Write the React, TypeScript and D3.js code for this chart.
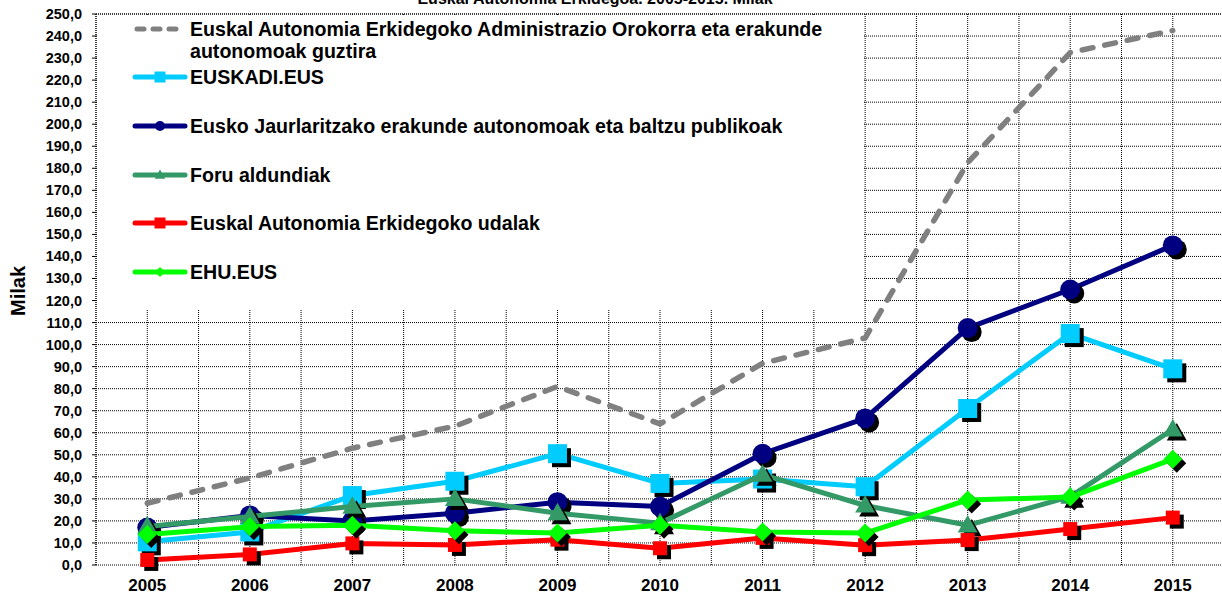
import React from "react";
import * as d3 from "d3";

const years = ["2005", "2006", "2007", "2008", "2009", "2010", "2011", "2012", "2013", "2014", "2015"];
const totalAdmin = [28, 39.5, 53, 63, 81, 64, 91.5, 103, 182.5, 232.5, 242.5];
const euskadiEus = [10.5, 15, 31.5, 38, 50.5, 37, 39, 35.5, 71, 105, 89];
const jaurlaritza = [17, 22.5, 20, 23.5, 28.5, 26.5, 50.5, 66.5, 107.5, 125, 145];
const foru = [17.5, 22, 26.5, 30, 23.5, 19, 41, 27, 18, 31, 61.5];
const udalak = [2.3, 4.8, 9.8, 9.1, 11.5, 7.6, 12.3, 9, 11.3, 16.3, 21.5];
const ehu = [13.8, 17.4, 18, 15.5, 14.5, 18, 15, 14.5, 29.5, 30.8, 48];
const yTicks = d3.range(0, 251, 10);

const title = "Euskal Autonomia Erkidegoa. 2005-2015. Milak";
const yTitle = "Milak";

type Marker = "none" | "square" | "circle" | "triangle" | "diamond" | "smallsquare";
const series: { name: string[]; values: number[]; color: string; marker: Marker; dashed?: boolean }[] = [
  { name: ["Euskal Autonomia Erkidegoko Administrazio Orokorra eta erakunde", "autonomoak guztira"], values: totalAdmin, color: "#808080", marker: "none", dashed: true },
  { name: ["EUSKADI.EUS"], values: euskadiEus, color: "#00CCFF", marker: "square" },
  { name: ["Eusko Jaurlaritzako erakunde autonomoak eta baltzu publikoak"], values: jaurlaritza, color: "#000080", marker: "circle" },
  { name: ["Foru aldundiak"], values: foru, color: "#339966", marker: "triangle" },
  { name: ["Euskal Autonomia Erkidegoko udalak"], values: udalak, color: "#FF0000", marker: "smallsquare" },
  { name: ["EHU.EUS"], values: ehu, color: "#00FF00", marker: "diamond" },
];

const FONT = "Arial, 'Liberation Sans', sans-serif";

function markerPath(m: Marker, s: number): string {
  if (m === "square") return `M${-s},${-s}H${s}V${s}H${-s}Z`;
  if (m === "smallsquare") return `M${-s},${-s}H${s}V${s}H${-s}Z`;
  if (m === "circle") return d3.symbol(d3.symbolCircle, Math.PI * s * s)() as string;
  if (m === "triangle") return `M0,${-s * 1.1}L${s * 1.05},${s * 0.75}L${-s * 1.05},${s * 0.75}Z`;
  if (m === "diamond") return `M0,${-s}L${s},0L0,${s}L${-s},0Z`;
  return "";
}
const markerSize: Record<Marker, number> = { none: 0, square: 9.5, smallsquare: 7, circle: 10, triangle: 9.5, diamond: 9.5 };
const legendMarkerSize: Record<Marker, number> = { none: 0, square: 5.5, smallsquare: 5.5, circle: 5, triangle: 5, diamond: 5 };

export default function App() {
  const W = 1222, H = 599;
  const left = 96, top = 14, bottom = 565;
  const x = d3.scalePoint<string>().domain(years).range([left, left + 11 * 102.55]).padding(0.5);
  const y = d3.scaleLinear().domain([0, 250]).range([bottom, top]);
  const step = x.step();
  const vLines = d3.range(0, 23).map((i) => left + (i * step) / 2).filter((v) => v <= W);
  const legend = { x0: 97, x1: 864, y0: 15, y1: 310 };
  const line = d3.line<number>().x((_, i) => x(years[i]) as number).y((d) => y(d));
  const legendYs = [29, 77, 126, 175, 223, 272];

  return (
    <svg width={W} height={H} style={{ position: "absolute", left: 0, top: 0, background: "#fff" }} fontFamily={FONT}>
      <rect width={W} height={H} fill="#fff" />
      <text x={595} y={4} textAnchor="middle" fontSize={16} fontWeight="bold">{title}</text>
      {/* gridlines */}
      {yTicks.map((t) => (
        <line key={"h" + t} x1={left} x2={W} y1={y(t)} y2={y(t)} stroke="#000" strokeWidth={1} strokeDasharray="1,1" />
      ))}
      {vLines.map((v, i) => (
        <line key={"v" + i} x1={v} x2={v} y1={top} y2={bottom} stroke="#000" strokeWidth={1} strokeDasharray="1,1" />
      ))}
      {/* legend background */}
      <rect x={legend.x0} y={legend.y0} width={legend.x1 - legend.x0} height={legend.y1 - legend.y0} fill="#fff" />
      {/* axis ticks & labels */}
      {yTicks.map((t) => (
        <g key={"yt" + t}>
          <line x1={left - 4} x2={left} y1={y(t)} y2={y(t)} stroke="#000" strokeWidth={1} />
          <text x={82} y={y(t) + 5} textAnchor="end" fontSize={14.5} fontWeight="bold">{d3.format(".1f")(t).replace(".", ",")}</text>
        </g>
      ))}
      <line x1={left} x2={left} y1={top} y2={bottom} stroke="#000" strokeWidth={1} strokeDasharray="1,1" />
      <line x1={left} x2={W} y1={top} y2={top} stroke="#000" strokeWidth={1} strokeDasharray="1,1" />
      {years.map((yr) => (
        <text key={yr} x={x(yr)} y={591} textAnchor="middle" fontSize={17} fontWeight="bold">{yr}</text>
      ))}
      <text transform={`translate(25,291) rotate(-90)`} textAnchor="middle" fontSize={20} fontWeight="bold">{yTitle}</text>
      {/* series */}
      {series.map((s, si) => (
        <g key={"s" + si}>
          <path d={line(s.values) as string} fill="none" stroke={s.color} strokeWidth={s.dashed ? 5.5 : 5}
            strokeDasharray={s.dashed ? "11,12" : undefined} strokeLinecap={s.dashed ? "round" : "butt"} strokeLinejoin="round" />
          {s.marker !== "none" && s.values.map((v, i) => (
            <g key={i} transform={`translate(${x(years[i])},${y(v)})`}>
              <path d={markerPath(s.marker, markerSize[s.marker])} transform="translate(4,4)" fill="#000" />
              <path d={markerPath(s.marker, markerSize[s.marker])} fill={s.color} />
            </g>
          ))}
        </g>
      ))}
      {/* legend */}
      {series.map((s, si) => (
        <g key={"l" + si} transform={`translate(0,${legendYs[si]})`}>
          <line x1={s.dashed ? 137 : 135} x2={s.dashed ? 183 : 185} y1={0} y2={0} stroke={s.color} strokeWidth={5}
            strokeLinecap="round" strokeDasharray={s.dashed ? "7,9" : undefined} />
          {s.marker !== "none" && <path d={markerPath(s.marker, legendMarkerSize[s.marker])} transform="translate(160,0)" fill={s.color} />}
          {s.name.map((n, k) => (
            <text key={k} x={190} y={6.5 + k * 22.5} fontSize={19.6} fontWeight="bold">{n}</text>
          ))}
        </g>
      ))}
    </svg>
  );
}
